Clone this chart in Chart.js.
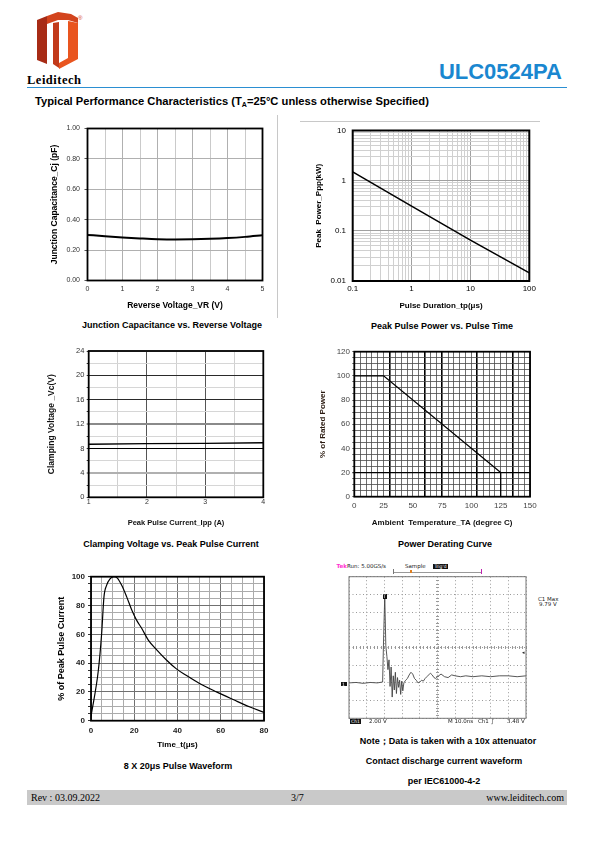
<!DOCTYPE html>
<html>
<head>
<meta charset="utf-8">
<script src="https://cdn.jsdelivr.net/npm/chart.js@4.4.1/dist/chart.umd.min.js"></script>
<style>
  body { margin: 0; background: #fff; }
  #page { position: relative; width: 595px; height: 842px; overflow: hidden; font-family: "Liberation Sans", Arial, sans-serif; color: #000; }
  canvas { position: absolute; }
  .c { position: absolute; white-space: nowrap; line-height: 1; transform: translate(-50%, -50%); font-weight: bold; font-size: 9px; }
  .l { position: absolute; white-space: nowrap; line-height: 1; transform: translateY(-50%); }
  .s { position: absolute; white-space: nowrap; line-height: 1; transform: translateY(-50%); font-size: 5.5px; font-family: "DejaVu Sans", sans-serif; color: #222; }
  .blk { position: absolute; background: #111; color: #fff; font-size: 4.5px; line-height: 5px; text-align: center; font-family: "DejaVu Sans", sans-serif; }
  .ln { position: absolute; }
</style>
</head>
<body>
<div id="page">
  <!-- header -->
  <svg class="ln" style="left:37px;top:12px" width="42" height="58" viewBox="0 0 42 58">
    <polygon points="0,8 10,4 10,52 0,48" fill="#a72b15"/>
    <polygon points="10,4 21,0 34,2 41,6 41,11 31,8 21,8 10,12" fill="#d3441d"/>
    <polygon points="16,11 22,10 22,56 16,52" fill="#c23a1a"/>
    <polygon points="31,9 41,11 41,47 22,57 22,51 31,46" fill="#e9551f"/>
  </svg>
  <div class="l" style="left:78px;top:18px;font-size:6px;color:#d43a1e">®</div>
  <div class="l" style="left:27px;top:80px;font-family:'Liberation Serif',serif;font-weight:bold;font-size:12.5px;letter-spacing:0.5px">Leiditech</div>
  <div class="l" style="right:33px;top:72px;font-weight:bold;font-size:22px;color:#1a87d0">ULC0524PA</div>
  <div class="ln" style="left:27px;top:87px;width:540px;height:1px;background:#2b8fd2"></div>
  <div class="l" style="left:35px;top:102px;font-weight:bold;font-size:11.2px">Typical Performance Characteristics (T<sub style="font-size:7px;vertical-align:-2px">A</sub>=25°C unless otherwise Specified)</div>

  <!-- image borders left in the source page -->
  <div class="ln" style="left:277px;top:115px;width:1px;height:203px;background:#c8c8c8"></div>
  <div class="ln" style="left:300px;top:121px;width:240px;height:1px;background:#c8c8c8"></div>

  <canvas id="capChart"></canvas>
  <canvas id="pppChart"></canvas>
  <canvas id="clampChart"></canvas>
  <canvas id="deratingChart"></canvas>
  <canvas id="waveChart"></canvas>
  <canvas id="esdChart"></canvas>

  <div class="c" style="left:172px;top:325px">Junction Capacitance vs. Reverse Voltage</div>
  <div class="c" style="left:442px;top:326px">Peak Pulse Power vs. Pulse Time</div>
  <div class="c" style="left:171px;top:544px">Clamping Voltage vs. Peak Pulse Current</div>
  <div class="c" style="left:445px;top:544px">Power Derating Curve</div>
  <div class="c" style="left:178px;top:766px">8 X 20μs Pulse Waveform</div>
  <div class="c" style="left:448px;top:741px">Note；Data is taken with a 10x attenuator</div>
  <div class="c" style="left:444px;top:761px">Contact discharge current waveform</div>
  <div class="c" style="left:444px;top:781px">per IEC61000-4-2</div>

  <!-- scope read-outs -->
  <div class="s" style="left:336.5px;top:566.5px;color:#ff2fd0;font-weight:bold">Tek</div>
  <div class="s" style="left:347px;top:566.5px">Run: 5.00GS/s</div>
  <div class="s" style="left:405px;top:566.5px">Sample</div>
  <div class="blk" style="left:433px;top:564px;width:15px;height:5px">Trig'd</div>
  <div class="ln" style="left:393px;top:572px;width:89px;height:1px;background:#999"></div>
  <div class="ln" style="left:393px;top:569px;width:1px;height:5px;background:#777"></div>
  <div class="ln" style="left:481px;top:569px;width:1px;height:5px;background:#c020b0"></div>
  <div class="ln" style="left:410px;top:570px;width:2px;height:3px;background:#e08020"></div>
  <div class="s" style="left:538px;top:600px">C1 Max</div>
  <div class="s" style="left:539px;top:605px">9.79 V</div>
  <div class="blk" style="left:382.5px;top:594px;width:4px;height:5px">T</div>
  <div class="blk" style="left:340.5px;top:681.5px;width:6px;height:4.5px">1</div>
  <div class="s" style="left:522px;top:652px;font-size:5px">◂</div>
  <div class="blk" style="left:350px;top:719px;width:11px;height:5px">Ch1</div>
  <div class="s" style="left:369px;top:721.5px">2.00 V</div>
  <div class="s" style="left:448px;top:721.5px">M 10.0ns</div>
  <div class="s" style="left:478px;top:721.5px">Ch1</div>
  <div class="s" style="left:491px;top:721.5px">∫</div>
  <div class="s" style="left:507px;top:721.5px">3.48 V</div>

  <!-- footer -->
  <div class="ln" style="left:27px;top:790px;width:540px;height:15px;background:#c9c9c9"></div>
  <div class="l" style="left:31px;top:797.5px;font-family:'Liberation Serif',serif;font-size:10px">Rev : 03.09.2022</div>
  <div class="l" style="left:291px;top:797.5px;font-family:'Liberation Serif',serif;font-size:10px">3/7</div>
  <div class="l" style="right:31px;top:797.5px;font-family:'Liberation Serif',serif;font-size:10px">www.leiditech.com</div>
</div>

<script>
// ---------- data ----------
// Junction capacitance vs reverse voltage
const capVoltage = [0, 0.5, 1, 1.5, 2, 2.5, 3, 3.5, 4, 4.5, 5];
const capValues  = [0.300, 0.291, 0.283, 0.277, 0.272, 0.270, 0.271, 0.274, 0.279, 0.287, 0.298];

// Peak pulse power vs pulse time (log-log)
const pulseWidth = [0.1, 1, 10, 100];
const peakPower  = [1.5, 0.31, 0.065, 0.0145];
const pppXDecades = [0.1, 1, 10, 100];
const pppYDecades = [0.01, 0.1, 1, 10];

// Clamping voltage vs peak pulse current
const clampCurrent = [1, 2, 3, 4];
const clampVoltage = [8.7, 8.8, 8.85, 8.95];

// Power derating
const deratingTemp  = [0, 25, 125, 125];
const deratingPower = [100, 100, 20, 0];

// 8 x 20us pulse waveform
const waveTime    = [0, 3.4, 4.9, 6, 7.2, 8.8, 10.6, 12.2, 14.2, 16.5, 18.8, 21, 23.5, 26.5, 30.5, 35, 39.5, 44, 50, 58, 66, 73.5, 80];
const waveCurrent = [3, 35, 60, 86, 94, 98.5, 100, 99, 94, 86, 77, 70, 64, 56, 49, 42, 36, 31.5, 26, 20, 14.5, 9.5, 5.8];

// ESD contact discharge scope capture (ns, V)
const esdTime = [0, 4, 8, 12, 16, 19, 19.6, 20.2, 20.8, 21.4, 22, 22.6, 23.2, 23.8, 24.4, 25, 25.6, 26.2, 26.8, 27.4, 28, 28.6, 29.2, 29.8, 30.4, 31, 32, 33, 34, 35, 36, 37, 38, 39, 40, 41, 42, 43, 44, 45, 46, 47, 48, 49, 50, 52, 54, 56, 58, 60, 63, 66, 70, 75, 80, 85, 90, 95, 100];
const esdVolt = [0, 0.05, -0.05, 0.05, 0, 0.1, 5.5, 9.8, 4.2, 3, 1.5, 2.6, -0.4, 1.8, -1.6, 0.8, -0.8, 1.2, -1.2, 0.6, -0.5, 0.3, -1.3, 0.2, -0.9, 0, 0.3, 0.5, 0.9, 1.2, 1.0, 0.5, 0.3, 0.0, 0.1, 0.3, 0.2, 0.5, 0.7, 0.9, 1.1, 0.9, 0.6, 0.5, 0.7, 1.0, 0.7, 0.6, 0.9, 0.8, 0.7, 0.8, 0.7, 0.8, 0.7, 0.8, 0.8, 0.7, 0.8];

// ---------- helpers ----------
Chart.defaults.font.family = "'Liberation Sans', Arial, sans-serif";
Chart.defaults.color = '#222';

const pts = (xs, ys) => xs.map((x, i) => ({x: x, y: ys[i]}));

const frame = {
  id: 'frame',
  afterDraw(chart, args, o) {
    const a = chart.chartArea, ctx = chart.ctx;
    ctx.save();
    ctx.strokeStyle = o.color || '#000';
    ctx.lineWidth = o.width || 1.6;
    ctx.strokeRect(a.left, a.top, a.right - a.left, a.bottom - a.top);
    ctx.restore();
  }
};

// scope centre cross with small division ticks
const scopeCross = {
  id: 'scopeCross',
  beforeDatasetsDraw(chart) {
    const {ctx, scales: {x, y}} = chart;
    const cx = x.getPixelForValue(50), cy = y.getPixelForValue(4);
    ctx.save();
    ctx.strokeStyle = '#999';
    ctx.lineWidth = 1;
    ctx.beginPath();
    for (let t = 0; t <= 100; t += 2) {
      const px = Math.round(x.getPixelForValue(t)) + 0.5;
      ctx.moveTo(px, cy - 1.5); ctx.lineTo(px, cy + 1.5);
    }
    for (let v = -4; v <= 12; v += 0.4) {
      const py = Math.round(y.getPixelForValue(v)) + 0.5;
      ctx.moveTo(cx - 1.5, py); ctx.lineTo(cx + 1.5, py);
    }
    ctx.stroke();
    ctx.restore();
  }
};

function box(l, t, r, b, yt, xt, fs) {
  const lh = fs * 1.2;
  return {l, t, r, b, yt, xt,
    x0: Math.floor(yt - lh / 2 - 1), y0: Math.floor(t - 10),
    x1: Math.ceil(r + 16), y1: Math.ceil(xt + lh / 2 + 1)};
}

function mount(id, a, cfg) {
  const cv = document.getElementById(id);
  const W = a.x1 - a.x0, H = a.y1 - a.y0;
  cv.width = W; cv.height = H;
  Object.assign(cv.style, {left: a.x0 + 'px', top: a.y0 + 'px', width: W + 'px', height: H + 'px'});
  const o = cfg.options;
  o.responsive = false;
  o.animation = false;
  o.layout = {padding: {left: 0, top: a.t - a.y0, right: a.x1 - a.r, bottom: 0}};
  o.scales.x.afterFit = s => { s.height = a.y1 - a.b; };
  o.scales.y.afterFit = s => { s.width = a.l - a.x0; };
  const xt = o.scales.x.title;
  if (xt && xt.display) xt.padding = {top: 0, bottom: a.y1 - a.xt - xt.font.size * 0.6};
  const yt = o.scales.y.title;
  if (yt && yt.display) yt.padding = {top: a.yt - a.x0 - yt.font.size * 0.6, bottom: 0};
  o.plugins = Object.assign({legend: {display: false}, tooltip: {enabled: false}}, o.plugins || {});
  return new Chart(cv, cfg);
}

const isInt = v => Math.abs(v - Math.round(v)) < 1e-9;
const mult = (v, m) => Math.abs(v / m - Math.round(v / m)) < 1e-9;
const line = (data, w, extra) => Object.assign({data: data, borderColor: '#000', borderWidth: w, pointRadius: 0, fill: false}, extra || {});

// ---------- 1. junction capacitance ----------
mount('capChart', box(87.5, 128.5, 262.5, 280.5, 55, 305.5, 8.5), {
  type: 'line',
  data: {datasets: [line(pts(capVoltage, capValues), 2, {cubicInterpolationMode: 'monotone'})]},
  options: {
    plugins: {frame: {width: 1.8}},
    scales: {
      x: {type: 'linear', min: 0, max: 5,
          border: {display: false},
          grid: {drawTicks: false, color: c => isInt(c.tick.value) ? '#b0b0b0' : '#cacaca'},
          ticks: {stepSize: 0.5, autoSkip: false, maxRotation: 0, padding: 4.3, font: {size: 7}, color: '#333',
                  callback: v => isInt(v) ? String(v) : ''},
          title: {display: true, text: 'Reverse Voltage_VR (V)', font: {size: 8.5, weight: 'bold'}, color: '#000'}},
      y: {min: 0, max: 1,
          border: {display: false},
          grid: {color: '#b0b0b0', tickLength: 3, tickColor: '#555'},
          ticks: {stepSize: 0.2, padding: 4.5, font: {size: 7}, color: '#333', callback: v => v.toFixed(2)},
          title: {display: true, text: 'Junction Capacitance_Cj (pF)', font: {size: 8.5, weight: 'bold'}, color: '#000'}}
    }
  },
  plugins: [frame]
});

// ---------- 2. peak pulse power (log-log) ----------
function logGrid(decades) {
  const out = [];
  decades.forEach((d, i) => {
    if (i === decades.length - 1) { out.push(d); return; }
    for (let k = 1; k < 10; k++) out.push(+(d * k).toPrecision(3));
  });
  return out;
}
const isDecade = (v, decades) => decades.some(d => Math.abs(d - v) < d * 1e-6);

mount('pppChart', box(352.7, 129, 529.3, 281, 319, 306, 8), {
  type: 'line',
  data: {datasets: [line(pts(pulseWidth, peakPower), 1.5)]},
  options: {
    plugins: {frame: {width: 2}},
    scales: {
      x: {type: 'logarithmic', min: 0.1, max: 100,
          afterBuildTicks: s => { s.ticks = logGrid(pppXDecades).map(v => ({value: v})); },
          border: {display: false},
          grid: {drawTicks: false, color: c => isDecade(c.tick.value, pppXDecades) ? '#a0a0a0' : '#d0d0d0'},
          ticks: {autoSkip: false, maxRotation: 0, padding: 3, font: {size: 8}, color: '#000',
                  callback: v => isDecade(v, pppXDecades) ? String(v) : ''},
          title: {display: true, text: 'Pulse Duration_tp(μs)', font: {size: 8, weight: 'bold'}, color: '#000'}},
      y: {type: 'logarithmic', min: 0.01, max: 10,
          afterBuildTicks: s => { s.ticks = logGrid(pppYDecades).map(v => ({value: v})); },
          border: {display: false},
          grid: {drawTicks: false, color: c => isDecade(c.tick.value, pppYDecades) ? '#a0a0a0' : '#d0d0d0'},
          ticks: {autoSkip: false, padding: 6.7, font: {size: 8}, color: '#000',
                  callback: v => isDecade(v, pppYDecades) ? String(v) : ''},
          title: {display: true, text: 'Peak  Power_Ppp(kW)', font: {size: 8, weight: 'bold'}, color: '#000'}}
    }
  },
  plugins: [frame]
});

// ---------- 3. clamping voltage ----------
const clampGridColor = v => v === 8 ? '#000' : (v === 16 || v === 20) ? '#2a2a2a' : v === 12 ? '#8a8a8a' : v === 4 ? '#b0b0b0' : '#d6d6d6';
mount('clampChart', box(88.7, 351, 263.3, 497.3, 51.5, 522.5, 7.5), {
  type: 'line',
  data: {datasets: [line(pts(clampCurrent, clampVoltage), 1.3)]},
  options: {
    plugins: {frame: {width: 1.8}},
    scales: {
      x: {type: 'linear', min: 1, max: 4,
          border: {display: false},
          grid: {drawTicks: false, color: c => isInt(c.tick.value) ? '#555' : '#d0d0d0'},
          ticks: {stepSize: 0.5, autoSkip: false, maxRotation: 0, padding: 1, font: {size: 7}, color: '#333',
                  callback: v => isInt(v) ? String(v) : ''},
          title: {display: true, text: 'Peak Pulse Current_Ipp (A)', font: {size: 7.5, weight: 'bold'}, color: '#111'}},
      y: {min: 0, max: 24,
          border: {display: false},
          grid: {color: c => clampGridColor(c.tick.value),
                 lineWidth: c => (c.tick.value === 4 || c.tick.value === 12) ? 2 : 1,
                 tickLength: 2, tickColor: '#333', tickWidth: 1},
          ticks: {stepSize: 2, autoSkip: false, padding: 2.4, font: {size: 7.5}, color: '#333',
                  callback: v => mult(v, 4) ? String(v) : ''},
          title: {display: true, text: 'Clamping Voltage _Vc(V)', font: {size: 8.5, weight: 'bold'}, color: '#111'}}
    }
  },
  plugins: [frame]
});

// ---------- 4. power derating ----------
const derMajorX = [30, 60, 75, 105, 135];
mount('deratingChart', box(354.3, 351.7, 530, 496.7, 323, 522.5, 8), {
  type: 'line',
  data: {datasets: [line(pts(deratingTemp, deratingPower), 1.3)]},
  options: {
    plugins: {frame: {width: 1.8}},
    scales: {
      x: {type: 'linear', min: 0, max: 150,
          border: {display: false},
          grid: {drawTicks: false,
                 color: c => derMajorX.includes(c.tick.value) ? '#000' : '#4a4a4a',
                 lineWidth: c => derMajorX.includes(c.tick.value) ? 1.6 : 0.8},
          ticks: {stepSize: 5, autoSkip: false, maxRotation: 0, padding: 4.1, font: {size: 8}, color: '#444',
                  callback: v => mult(v, 25) ? String(v) : ''},
          title: {display: true, text: 'Ambient  Temperature_TA (degree C)', font: {size: 8, weight: 'bold'}, color: '#111'}},
      y: {min: 0, max: 120,
          border: {display: false},
          grid: {color: c => c.tick.value === 20 ? '#000' : '#4a4a4a',
                 lineWidth: c => c.tick.value === 20 ? 1.3 : 0.8,
                 tickLength: 2, tickColor: '#333'},
          ticks: {stepSize: 5, autoSkip: false, padding: 2.3, font: {size: 8}, color: '#444',
                  callback: v => mult(v, 20) ? String(v) : ''},
          title: {display: true, text: '% of Rated Power', font: {size: 8, weight: 'bold'}, color: '#2a1a10'}}
    }
  },
  plugins: [frame]
});

// ---------- 5. 8 x 20us waveform ----------
mount('waveChart', box(91, 576.7, 264, 720.7, 61.5, 745, 8.5), {
  type: 'line',
  data: {datasets: [line(pts(waveTime, waveCurrent), 1.2, {cubicInterpolationMode: 'monotone'})]},
  options: {
    plugins: {frame: {width: 1.8}},
    scales: {
      x: {type: 'linear', min: 0, max: 80,
          border: {display: false},
          grid: {drawTicks: false, color: c => mult(c.tick.value, 20) ? '#707070' : '#ababab'},
          ticks: {stepSize: 5, autoSkip: false, maxRotation: 0, padding: 5.2, font: {size: 8, weight: 'bold'}, color: '#222',
                  callback: v => mult(v, 20) ? String(v) : ''},
          title: {display: true, text: 'Time_t(μs)', font: {size: 8, weight: 'bold'}, color: '#000'}},
      y: {min: 0, max: 100,
          border: {display: false},
          grid: {color: c => mult(c.tick.value, 20) ? '#707070' : '#ababab', tickLength: 3, tickColor: '#333'},
          ticks: {stepSize: 5, autoSkip: false, padding: 3, font: {size: 8, weight: 'bold'}, color: '#222',
                  callback: v => mult(v, 20) ? String(v) : ''},
          title: {display: true, text: '% of Peak Pulse Current', font: {size: 9, weight: 'bold'}, color: '#000'}}
    }
  },
  plugins: [frame]
});

// ---------- 6. ESD scope capture ----------
mount('esdChart', {l: 349, t: 576.7, r: 526, b: 718.3, x0: 346, y0: 574, x1: 529, y1: 721}, {
  type: 'line',
  data: {datasets: [line(pts(esdTime, esdVolt), 0.9, {borderColor: '#444'})]},
  options: {
    plugins: {frame: {width: 1, color: '#777'}},
    scales: {
      x: {type: 'linear', min: 0, max: 100,
          border: {display: false, dash: [1, 2.5]},
          grid: {drawTicks: false, color: '#9a9a9a'},
          ticks: {stepSize: 10, display: false}},
      y: {min: -4, max: 12,
          border: {display: false, dash: [1, 2.5]},
          grid: {drawTicks: false, color: '#9a9a9a'},
          ticks: {stepSize: 2, display: false}}
    }
  },
  plugins: [frame, scopeCross]
});
</script>
</body>
</html>
